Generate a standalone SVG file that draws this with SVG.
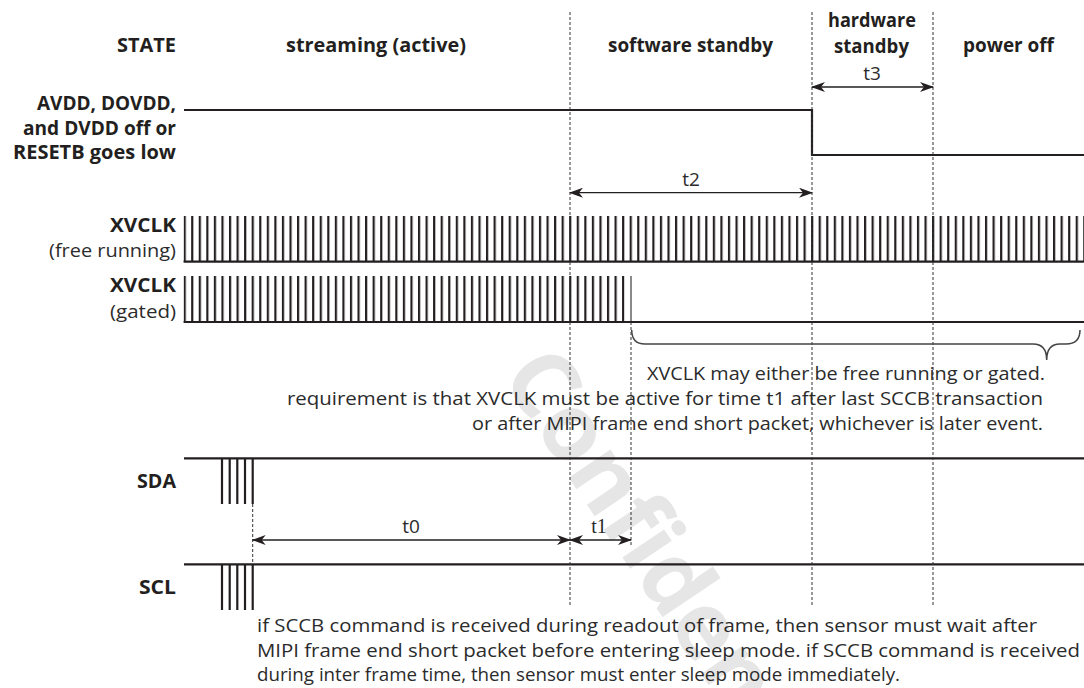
<svg xmlns="http://www.w3.org/2000/svg" width="1084" height="688" viewBox="0 0 1084 688">
<style>
.b{font-family:"Open Sans","Liberation Sans",sans-serif;font-weight:700;font-size:20px;fill:#231f20}
.b2{font-family:"Open Sans","Liberation Sans",sans-serif;font-weight:700;font-size:19px;fill:#231f20}
.r{font-family:"Open Sans","Liberation Sans",sans-serif;font-weight:400;font-size:19px;fill:#2b2b2b}
.t{font-family:"Liberation Serif",serif;font-size:20px;fill:#2b2b2b}
.sig{stroke:#231f20;stroke-width:2.2;fill:none}
.dash{stroke:#333;stroke-width:1;stroke-dasharray:3 2;fill:none}
.arr{stroke:#231f20;stroke-width:1.3;fill:none;marker-start:url(#ah);marker-end:url(#ah)}
.wm{font-family:"Open Sans","Liberation Sans",sans-serif;font-weight:700;font-size:92px;fill:#e6e6e6}
</style>
<defs>
<marker id="ah" viewBox="0 0 14 10" refX="13" refY="5" markerWidth="14" markerHeight="10" markerUnits="userSpaceOnUse" orient="auto-start-reverse">
<path d="M0,0 L14,5 L0,10 L4,5 Z" fill="#231f20"/>
</marker>
<pattern id="clk" patternUnits="userSpaceOnUse" x="183.6" y="0" width="7.56" height="688">
<rect x="0" y="0" width="2.2" height="688" fill="#231f20"/>
</pattern>
</defs>
<rect width="1084" height="688" fill="#fff"/>
<g id="watermark">
<text class="wm" transform="translate(500,376) rotate(56)">Confidential</text>
</g>
<g id="state-header">
<text class="b" x="176" y="52" text-anchor="end" textLength="59" lengthAdjust="spacingAndGlyphs">STATE</text>
<text class="b" x="286" y="52" textLength="180" lengthAdjust="spacingAndGlyphs">streaming (active)</text>
<text class="b" x="608" y="52" textLength="165" lengthAdjust="spacingAndGlyphs">software standby</text>
<text class="b" x="828" y="27" textLength="88" lengthAdjust="spacingAndGlyphs">hardware</text>
<text class="b" x="834" y="53" textLength="75" lengthAdjust="spacingAndGlyphs">standby</text>
<text class="b" x="963" y="52" textLength="91" lengthAdjust="spacingAndGlyphs">power off</text>
</g>
<g id="sig-avdd">
<text class="b2" x="176" y="110" text-anchor="end" textLength="139" lengthAdjust="spacingAndGlyphs">AVDD, DOVDD,</text>
<text class="b2" x="176" y="134.5" text-anchor="end" textLength="153" lengthAdjust="spacingAndGlyphs">and DVDD off or</text>
<text class="b2" x="176" y="159" text-anchor="end" textLength="163" lengthAdjust="spacingAndGlyphs">RESETB goes low</text>
<path class="sig" d="M184,110 H812 V155 H1084"/>
</g>
<g id="sig-xvclk-free">
<text class="b" x="176" y="232" text-anchor="end" textLength="66" lengthAdjust="spacingAndGlyphs">XVCLK</text>
<text class="r" x="176" y="257" text-anchor="end" textLength="127" lengthAdjust="spacingAndGlyphs">(free running)</text>
<rect x="183.6" y="216" width="900.4" height="46" fill="url(#clk)"/>
<path class="sig" d="M183.6,261.6 H1084"/>
</g>
<g id="sig-xvclk-gated">
<text class="b" x="176" y="292" text-anchor="end" textLength="66" lengthAdjust="spacingAndGlyphs">XVCLK</text>
<text class="r" x="176" y="318" text-anchor="end" textLength="66" lengthAdjust="spacingAndGlyphs">(gated)</text>
<rect x="183.6" y="276" width="441" height="46" fill="url(#clk)"/>
<path d="M631,276 V322" stroke="#8a8a8a" stroke-width="2" fill="none"/>
<path class="sig" d="M183.6,322 H1084"/>
</g>
<g id="sig-sda">
<text class="b" x="176" y="488" text-anchor="end" textLength="39" lengthAdjust="spacingAndGlyphs">SDA</text>
<path class="sig" d="M184,458.3 H1084 M222,458.3 V504 M229.7,458.3 V504 M237.3,458.3 V504 M245,458.3 V504 M252.7,458.3 V504"/>
</g>
<g id="sig-scl">
<text class="b" x="176" y="594" text-anchor="end" textLength="37" lengthAdjust="spacingAndGlyphs">SCL</text>
<path class="sig" d="M184,564.3 H1084 M222,564.3 V610 M229.7,564.3 V610 M237.3,564.3 V610 M245,564.3 V610 M252.7,564.3 V610"/>
</g>
<g id="connectors">
<path class="dash" d="M570,12 V607 M812,12 V607 M933,12 V607 M631,322 V545 M252.7,504 V564"/>
<path class="arr" d="M812,87 H933"/>
<path class="arr" d="M570,192.7 H812"/>
<path class="arr" d="M252.7,540 H570"/>
<path class="arr" d="M570,540 H631"/>
<path d="M631.7,330 Q631.7,344 645,344 L1033,344 Q1046.7,344 1046.7,360 Q1046.7,344 1060,344 L1066,344 Q1080,344 1080,330" stroke="#444" stroke-width="1.5" fill="none"/>
</g>
<g id="labels">
<text class="r" x="872" y="80" text-anchor="middle">t3</text>
<text class="r" x="691" y="186" text-anchor="middle">t2</text>
<text class="r" x="411" y="533" text-anchor="middle">t0</text>
<text class="t" x="599" y="533" text-anchor="middle">t1</text>
</g>
<g id="notes">
<text class="r" x="647" y="380" textLength="398" lengthAdjust="spacingAndGlyphs">XVCLK may either be free running or gated.</text>
<text class="r" x="287" y="405" textLength="756" lengthAdjust="spacingAndGlyphs">requirement is that XVCLK must be active for time t1 after last SCCB transaction</text>
<text class="r" x="472" y="430" textLength="571" lengthAdjust="spacingAndGlyphs">or after MIPI frame end short packet, whichever is later event.</text>
<text class="r" x="257" y="632" textLength="780" lengthAdjust="spacingAndGlyphs">if SCCB command is received during readout of frame, then sensor must wait after</text>
<text class="r" x="257" y="657" textLength="823" lengthAdjust="spacingAndGlyphs">MIPI frame end short packet before entering sleep mode. if SCCB command is received</text>
<text class="r" x="257" y="681" textLength="643" lengthAdjust="spacingAndGlyphs">during inter frame time, then sensor must enter sleep mode immediately.</text>
</g>
</svg>
